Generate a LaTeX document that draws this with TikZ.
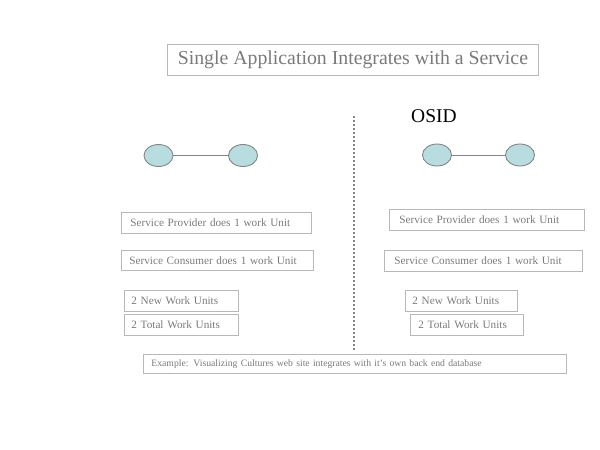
\documentclass[tikz,border=0pt]{standalone}
\usepackage{fontspec}
\setmainfont{Liberation Serif}
\definecolor{boxline}{HTML}{B8B8B8}
\definecolor{boxtext}{HTML}{7A7A7A}
\definecolor{nodefill}{HTML}{B7DDE0}
\definecolor{nodeline}{HTML}{858585}
\tikzset{
  lbl/.style={draw=boxline, line width=0.8pt, inner sep=0pt, anchor=north west, text=boxtext, font=\fontsize{11.2}{13}\selectfont},
  endpt/.style={ellipse, draw=nodeline, fill=nodefill, line width=0.9pt, minimum width=29pt, minimum height=22pt, inner sep=0pt},
  link/.style={draw=nodeline, line width=0.9pt},
}
\usetikzlibrary{shapes.geometric}
\begin{document}
\begin{tikzpicture}[x=1pt,y=-1pt]
\useasboundingbox (0,0) rectangle (600,450);
% title
\node[draw=boxline, line width=0.8pt, anchor=north west, minimum width=371pt, minimum height=31pt, inner sep=0pt, text=boxtext, font=\fontsize{19.8}{22}\selectfont] (title) at (167,44) {Single Application Integrates with a Service};
% OSID
\node[font=\fontsize{19.5}{22}\selectfont, anchor=west, inner sep=0pt] (osid) at (411,116) {OSID};
% divider
\coordinate (dtop) at (354,116);
\coordinate (dbot) at (354,350);
\draw[draw=nodeline, line width=1.6pt, dash pattern=on 1.6pt off 2.4pt] (dtop) -- (dbot);
% left endpoints
\node[endpt] (l1) at (158.5,155.5) {};
\node[endpt] (l2) at (243,155.5) {};
\draw[link] (l1) -- (l2);
% right endpoints
\node[endpt] (r1) at (437,155) {};
\node[endpt] (r2) at (520,155) {};
\draw[link] (r1) -- (r2);
% left boxes
\node[lbl, minimum width=190pt, minimum height=21pt, text width=182pt, align=left] (lp) at (121,212) {\hspace*{5pt}Service Provider does 1 work Unit};
\node[lbl, minimum width=192pt, minimum height=20pt, text width=184pt, align=left] (lc) at (121,250) {\hspace*{4pt}Service Consumer does 1 work Unit};
\node[lbl, minimum width=114pt, minimum height=21pt, text width=110pt, align=left] (ln) at (124,290) {\hspace*{5pt}2 New Work Units};
\node[lbl, minimum width=114pt, minimum height=21pt, text width=110pt, align=left] (lt) at (124,314) {\hspace*{5pt}2 Total Work Units};
% right boxes
\node[lbl, minimum width=195pt, minimum height=21pt, text width=187pt, align=left] (rp) at (389,209) {\hspace*{6pt}Service Provider does 1 work Unit};
\node[lbl, minimum width=198pt, minimum height=21pt, text width=190pt, align=left] (rc) at (384,250) {\hspace*{6pt}Service Consumer does 1 work Unit};
\node[lbl, minimum width=112pt, minimum height=21pt, text width=108pt, align=left] (rn) at (405,290) {\hspace*{5pt}2 New Work Units};
\node[lbl, minimum width=113pt, minimum height=21pt, text width=109pt, align=left] (rt) at (410,314) {\hspace*{6pt}2 Total Work Units};
% example
\node[lbl, minimum width=423pt, minimum height=19pt, text width=419pt, align=left, font=\fontsize{9.7}{11}\selectfont] (ex) at (143,354) {\hspace*{6pt}Example: Visualizing Cultures web site integrates with it’s own back end database};
\end{tikzpicture}
\end{document}
